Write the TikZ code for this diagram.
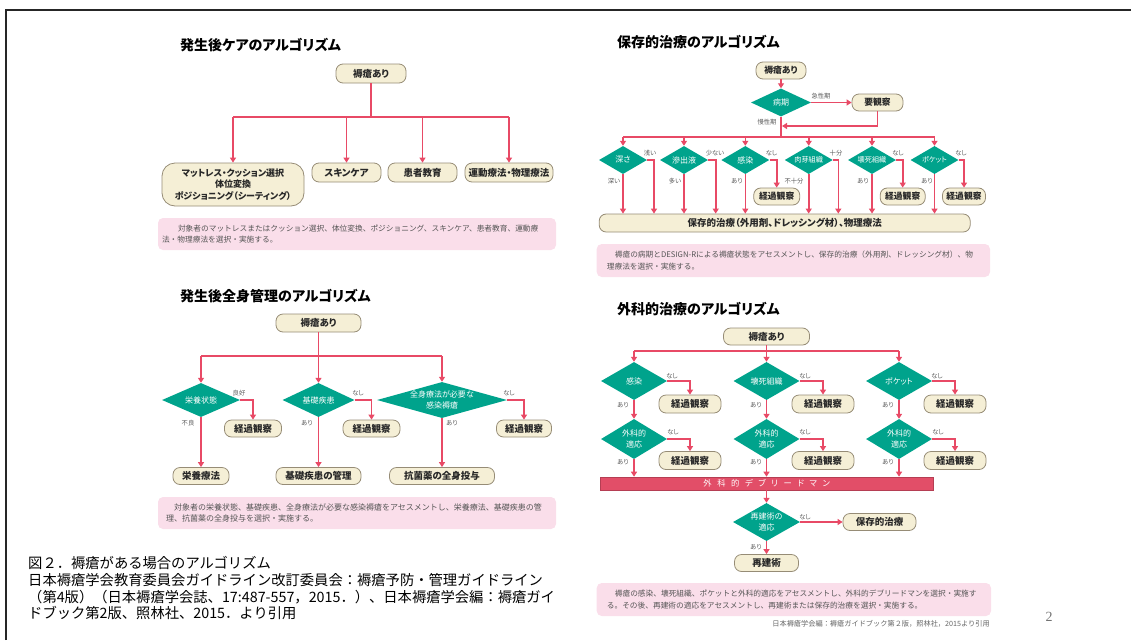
\documentclass[tikz,border=0pt]{standalone}
\usepackage{fontspec}
\usetikzlibrary{shapes.geometric,arrows.meta,calc}
\newfontfamily\jp[RawFeature=+palt]{Noto Sans CJK JP}
\newfontfamily\jpm{Noto Sans CJK JP}
\newfontfamily\serif{Liberation Serif}
\definecolor{lred}{RGB}{232,74,102}
\definecolor{cream}{RGB}{245,239,214}
\definecolor{bord}{RGB}{150,140,118}
\definecolor{dteal}{RGB}{0,163,140}
\definecolor{ppink}{RGB}{250,222,234}
\definecolor{txt}{RGB}{40,40,40}
\definecolor{labg}{RGB}{90,90,90}
\definecolor{pktxt}{RGB}{85,85,85}
\definecolor{barred}{RGB}{226,78,104}
\begin{document}
\begin{tikzpicture}[x=1pt,y=-1pt,
 ln/.style={draw=lred, line width=1.6pt},
 arr/.style={ln,-{Triangle[width=6pt,length=5pt]}},
 rbox/.style={draw=bord, fill=cream, line width=0.8pt, rounded corners=7pt, inner sep=0pt, font=\jp\bfseries\fontsize{9.5}{10}\selectfont, text=txt},
 dia/.style={diamond, fill=dteal, inner sep=0pt},
 dtxt/.style={text=white, font=\jp\fontsize{8}{11}\selectfont, align=center, inner sep=0pt},
 lab/.style={font=\jp\fontsize{6.3}{7}\selectfont, text=labg, inner sep=0pt},
 pk/.style={fill=ppink, rounded corners=5pt, inner sep=0pt, align=left, font=\jpm\fontsize{7.7}{11.5}\selectfont, text=pktxt},
 ttl/.style={font=\jp\bfseries\fontsize{14}{16}\selectfont, anchor=west, inner sep=0pt},
 capt/.style={font=\jpm\fontsize{14.3}{16}\selectfont, anchor=base west, inner sep=0pt},
 dbar/.style={fill=barred, draw=barred!80!black, line width=0.6pt, inner sep=0pt, text=white, font=\jp\fontsize{8.3}{9}\selectfont}
]
\useasboundingbox (0,0) rectangle (1131,640);
\draw[line width=1.2pt, black!85] (6,640) -- (6,10) -- (1131,10);

% ---------- top left ----------
\node[ttl] (t1) at (180,45) {発生後ケアのアルゴリズム};
\node[rbox, minimum width=70pt, minimum height=19pt] (a0) at (371,73.5) {褥瘡あり};
\node[rbox, minimum width=142pt, minimum height=43pt, rounded corners=13pt, align=center, font=\jp\bfseries\fontsize{9}{11.5}\selectfont] (a1) at (233,184.5) {マットレス・クッション選択\\体位変換\\ポジショニング（シーティング）};
\node[rbox, minimum width=69pt, minimum height=19pt] (a2) at (346.5,172.5) {スキンケア};
\node[rbox, minimum width=69pt, minimum height=19pt] (a3) at (422.5,172.5) {患者教育};
\node[rbox, minimum width=88pt, minimum height=19pt] (a4) at (509,172.5) {運動療法・物理療法};
\coordinate (aj) at (371,117);
\draw[ln] (a0.south) -- (aj);
\draw[ln] (a1.north |- aj) -- (a4.north |- aj);
\foreach \n in {a1,a2,a3,a4} \draw[arr] (\n.north |- aj) -- (\n.north);
\node[pk, minimum width=398pt, minimum height=32pt, text width=390pt] (p1) at (357,234) {\hspace*{16pt}対象者のマットレスまたはクッション選択、体位変換、ポジショニング、スキンケア、患者教育、運動療\\法・物理療法を選択・実施する。};

% ---------- bottom left ----------
\node[ttl] (t2) at (180,296) {発生後全身管理のアルゴリズム};
\node[rbox, minimum width=85pt, minimum height=18pt] (b0) at (318.5,323) {褥瘡あり};
\coordinate (bj) at (318.5,356);
\node[dia, minimum width=78pt, minimum height=34pt, label={[dtxt]center:栄養状態}] (b1) at (201,400) {};
\node[dia, minimum width=72pt, minimum height=34pt, label={[dtxt]center:基礎疾患}] (b2) at (318.5,400) {};
\node[dia, minimum width=130pt, minimum height=36pt, label={[dtxt]center:{全身療法が必要な\\感染褥瘡}}] (b3) at (442,400) {};
\draw[ln] (b0.south) -- (bj);
\draw[ln] (b1.north |- bj) -- (b3.north |- bj);
\foreach \n in {b1,b2,b3} \draw[arr] (\n.north |- bj) -- (\n.north);
\node[rbox, minimum width=57pt, minimum height=17pt] (bk1) at (253,428.5) {経過観察};
\node[rbox, minimum width=57pt, minimum height=17pt] (bk2) at (371.5,428.5) {経過観察};
\node[rbox, minimum width=55pt, minimum height=17pt] (bk3) at (524,428.5) {経過観察};
\draw[arr] (b1.east) -| (bk1.north);
\draw[arr] (b2.east) -| (bk2.north);
\draw[arr] (b3.east) -| (bk3.north);
\node[rbox, minimum width=56pt, minimum height=17pt] (br1) at (201,476) {栄養療法};
\node[rbox, minimum width=85pt, minimum height=17pt] (br2) at (318.5,476) {基礎疾患の管理};
\node[rbox, minimum width=105pt, minimum height=17pt] (br3) at (442,476) {抗菌薬の全身投与};
\draw[arr] (b1.south) -- (br1.north);
\draw[arr] (b2.south) -- (br2.north);
\draw[arr] (b3.south) -- (br3.north);
\node[lab] (bl1) at (239,393) {良好};
\node[lab] (bl2) at (358,393) {なし};
\node[lab] (bl3) at (509,393) {なし};
\node[lab] (bl4) at (188,423) {不良};
\node[lab] (bl5) at (307,423) {あり};
\node[lab] (bl6) at (452,423) {あり};
\node[pk, minimum width=398pt, minimum height=32pt, text width=382pt, font=\jpm\fontsize{8}{11.5}\selectfont] (p2) at (357,513) {\hspace*{8pt}対象者の栄養状態、基礎疾患、全身療法が必要な感染褥瘡をアセスメントし、栄養療法、基礎疾患の管\\理、抗菌薬の全身投与を選択・実施する。};

% ---------- top right ----------
\node[ttl] (t3) at (617,42) {保存的治療のアルゴリズム};
\node[rbox, minimum width=50pt, minimum height=17pt, font=\jp\bfseries\fontsize{8.8}{10}\selectfont] (c0) at (781,70.5) {褥瘡あり};
\node[dia, minimum width=60pt, minimum height=28pt, label={[dtxt]center:病期}] (c1) at (781,102.5) {};
\node[rbox, minimum width=51pt, minimum height=17pt, font=\jp\bfseries\fontsize{8.8}{10}\selectfont] (cy) at (877.5,102.5) {要観察};
\draw[arr] (c0.south) -- (c1.north);
\draw[arr] (c1.east) -- (cy.west);
\coordinate (cm) at (781,126);
\draw[arr, shorten >=1pt] (cy.south) |- (cm);
\coordinate (cj) at (781,137);
\draw[ln] (c1.south) -- (cj);
\node[dia, minimum width=48pt, minimum height=28pt, label={[dtxt]center:深さ}] (e1) at (623,160) {};
\node[dia, minimum width=48pt, minimum height=28pt, label={[dtxt]center:滲出液}] (e2) at (684,160) {};
\node[dia, minimum width=48pt, minimum height=28pt, label={[dtxt]center:感染}] (e3) at (745.3,160) {};
\node[dia, minimum width=48pt, minimum height=28pt, label={[dtxt, font=\jp\fontsize{7.2}{9}\selectfont]center:肉芽組織}] (e4) at (808.7,160) {};
\node[dia, minimum width=48pt, minimum height=28pt, label={[dtxt, font=\jp\fontsize{7.2}{9}\selectfont]center:壊死組織}] (e5) at (872,160) {};
\node[dia, minimum width=48pt, minimum height=28pt, label={[dtxt, font=\jp\fontsize{7.2}{9}\selectfont]center:ポケット}] (e6) at (934.5,160) {};
\draw[ln] (e1.north |- cj) -- (e6.north |- cj);
\foreach \n in {e1,e2,e3,e4,e5,e6} \draw[arr] (\n.north |- cj) -- (\n.north);
\node[rbox, minimum width=371pt, minimum height=18pt] (P) at (784.7,223) {保存的治療（外用剤、ドレッシング材）、物理療法};
\foreach \n in {e1,e2,e3,e4,e5,e6} \draw[arr] (\n.south) -- (\n.south |- P.north);
\coordinate (r1) at (654,160);
\coordinate (r2) at (715.7,160);
\coordinate (r4) at (838.3,160);
\draw[arr] (e1.east) -- (r1) -- (r1 |- P.north);
\draw[arr] (e2.east) -- (r2) -- (r2 |- P.north);
\draw[arr] (e4.east) -- (r4) -- (r4 |- P.north);
\node[rbox, minimum width=46pt, minimum height=17pt, font=\jp\bfseries\fontsize{8.8}{10}\selectfont] (ck1) at (776.7,196.5) {経過観察};
\node[rbox, minimum width=45pt, minimum height=17pt, font=\jp\bfseries\fontsize{8.8}{10}\selectfont] (ck2) at (902.7,196.5) {経過観察};
\node[rbox, minimum width=43pt, minimum height=17pt, font=\jp\bfseries\fontsize{8.8}{10}\selectfont] (ck3) at (964,196.5) {経過観察};
\draw[arr] (e3.east) -| (ck1.north);
\draw[arr] (e5.east) -| (ck2.north);
\draw[arr] (e6.east) -| (ck3.north);
\node[lab] (cl1) at (821,96) {急性期};
\node[lab] (cl2) at (767,121.7) {慢性期};
\node[lab] (cr1) at (650,153) {浅い};
\node[lab] (cr2) at (715,153) {少ない};
\node[lab] (cr3) at (771.5,153) {なし};
\node[lab] (cr4) at (836,153) {十分};
\node[lab] (cr5) at (898,153) {なし};
\node[lab] (cr6) at (961,153) {なし};
\node[lab] (cd1) at (614,180.7) {深い};
\node[lab] (cd2) at (675,180.7) {多い};
\node[lab] (cd3) at (737,180.7) {あり};
\node[lab] (cd4) at (794,180.7) {不十分};
\node[lab] (cd5) at (863,180.7) {あり};
\node[lab] (cd6) at (927,180.7) {あり};
\node[pk, minimum width=393.3pt, minimum height=33pt, text width=373pt] (p3) at (793.35,260.5) {\hspace*{8pt}褥瘡の病期とDESIGN-Rによる褥瘡状態をアセスメントし、保存的治療（外用剤、ドレッシング材）、物\\理療法を選択・実施する。};

% ---------- bottom right ----------
\node[ttl] (t4) at (617,309) {外科的治療のアルゴリズム};
\node[rbox, minimum width=86pt, minimum height=17pt] (g0) at (766.5,336.5) {褥瘡あり};
\coordinate (gj) at (766.5,351);
\node[dia, minimum width=66pt, minimum height=38pt, label={[dtxt]center:感染}] (g1) at (634,381) {};
\node[dia, minimum width=66pt, minimum height=38pt, label={[dtxt]center:壊死組織}] (g2) at (766.5,381) {};
\node[dia, minimum width=66pt, minimum height=38pt, label={[dtxt]center:ポケット}] (g3) at (899,381) {};
\draw[ln] (g0.south) -- (gj);
\draw[ln] (g1.north |- gj) -- (g3.north |- gj);
\foreach \n in {g1,g2,g3} \draw[arr] (\n.north |- gj) -- (\n.north);
\node[rbox, minimum width=62pt, minimum height=18pt] (gk1) at (690,404) {経過観察};
\node[rbox, minimum width=62pt, minimum height=18pt] (gk2) at (823,404) {経過観察};
\node[rbox, minimum width=62pt, minimum height=18pt] (gk3) at (955,404) {経過観察};
\draw[arr] (g1.east) -| (gk1.north);
\draw[arr] (g2.east) -| (gk2.north);
\draw[arr] (g3.east) -| (gk3.north);
\node[dia, minimum width=66pt, minimum height=40pt, label={[dtxt]center:{外科的\\適応}}] (h1) at (634,439) {};
\node[dia, minimum width=66pt, minimum height=40pt, label={[dtxt]center:{外科的\\適応}}] (h2) at (766.5,439) {};
\node[dia, minimum width=66pt, minimum height=40pt, label={[dtxt]center:{外科的\\適応}}] (h3) at (899,439) {};
\draw[arr] (g1.south) -- (h1.north);
\draw[arr] (g2.south) -- (h2.north);
\draw[arr] (g3.south) -- (h3.north);
\node[rbox, minimum width=62pt, minimum height=18pt] (hk1) at (690,460.5) {経過観察};
\node[rbox, minimum width=62pt, minimum height=18pt] (hk2) at (823,460.5) {経過観察};
\node[rbox, minimum width=62pt, minimum height=18pt] (hk3) at (955,460.5) {経過観察};
\draw[arr] (h1.east) -| (hk1.north);
\draw[arr] (h2.east) -| (hk2.north);
\draw[arr] (h3.east) -| (hk3.north);
\node[dbar, minimum width=333pt, minimum height=13pt] (gb) at (766.7,483.5) {外\hspace{5.6pt}科\hspace{5.6pt}的\hspace{5.6pt}デ\hspace{5.6pt}ブ\hspace{5.6pt}リ\hspace{5.6pt}ー\hspace{5.6pt}ド\hspace{5.6pt}マ\hspace{5.6pt}ン};
\draw[arr] (h1.south) -- (h1.south |- gb.north);
\draw[arr] (h2.south) -- (h2.south |- gb.north);
\draw[arr] (h3.south) -- (h3.south |- gb.north);
\node[dia, minimum width=67pt, minimum height=38pt, label={[dtxt]center:{再建術の\\適応}}] (d9) at (766.5,522) {};
\draw[arr] (d9.north |- gb.south) -- (d9.north);
\node[rbox, minimum width=73pt, minimum height=17pt] (gs) at (879.5,522) {保存的治療};
\node[rbox, minimum width=64pt, minimum height=17pt] (gr) at (766.5,563) {再建術};
\draw[arr] (d9.east) -- (gs.west);
\draw[arr] (d9.south) -- (gr.north);
\node[lab] (gl1) at (672,376) {なし};
\node[lab] (gl2) at (805,376) {なし};
\node[lab] (gl3) at (937,376) {なし};
\node[lab] (gl4) at (623,405) {あり};
\node[lab] (gl5) at (756,405) {あり};
\node[lab] (gl6) at (888,405) {あり};
\node[lab] (gl7) at (673,432) {なし};
\node[lab] (gl8) at (805,432) {なし};
\node[lab] (gl9) at (938,432) {なし};
\node[lab] (gl10) at (623,462) {あり};
\node[lab] (gl11) at (756,462) {あり};
\node[lab] (gl12) at (888,462) {あり};
\node[lab] (gl13) at (805,517) {なし};
\node[lab] (gl14) at (756,547) {あり};
\node[pk, minimum width=394.3pt, minimum height=33pt, text width=374pt] (p4) at (793.85,599.5) {\hspace*{8pt}褥瘡の感染、壊死組織、ポケットと外科的適応をアセスメントし、外科的デブリードマンを選択・実施す\\る。その後、再建術の適応をアセスメントし、再建術または保存的治療を選択・実施する。};
\node[anchor=east, inner sep=0pt, font=\jpm\fontsize{7.2}{8}\selectfont, text=black!60] (src) at (990,623.5) {日本褥瘡学会編：褥瘡ガイドブック第２版，照林社，2015より引用};
\node[inner sep=0pt, font=\serif\fontsize{14}{14}\selectfont, text=black!55] (pg) at (1049,617) {2};

% ---------- caption ----------
\node[capt] (cap1) at (28,568.4) {図２．褥瘡がある場合のアルゴリズム};
\node[capt] (cap2) at (28,585.4) {日本褥瘡学会教育委員会ガイドライン改訂委員会：褥瘡予防・管理ガイドライン};
\node[capt] (cap3) at (28,602.4) {（第4版）（日本褥瘡学会誌、17:487-557，2015．）、日本褥瘡学会編：褥瘡ガイ};
\node[capt] (cap4) at (28,618.4) {ドブック第2版、照林社、2015．より引用};
\end{tikzpicture}
\end{document}
